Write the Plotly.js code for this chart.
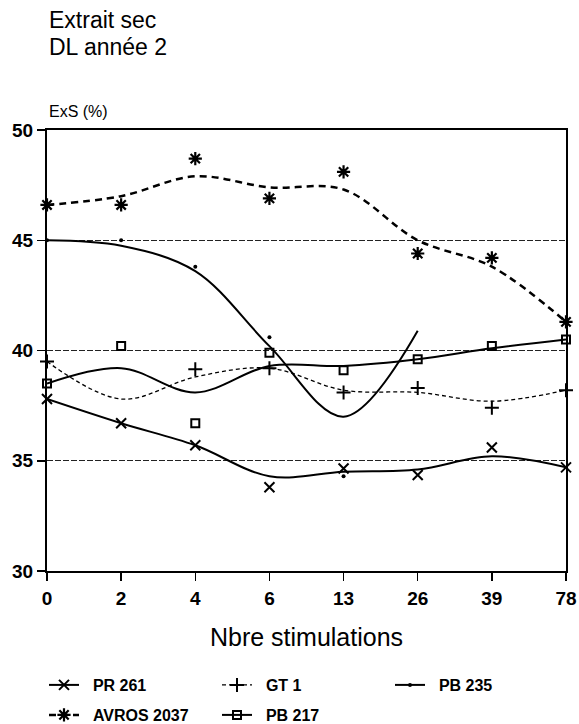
<!DOCTYPE html>
<html>
<head>
<meta charset="utf-8">
<script src="https://cdn.plot.ly/plotly-3.0.1.min.js"></script>
<style>html,body{margin:0;padding:0;background:#fff;}#chart{width:579px;height:724px;}</style>
</head>
<body>
<div id="chart"></div>
<script>
// Categories (x axis)
const categories = ['0', '2', '4', '6', '13', '26', '39', '78'];

// Observed points (markers)
const pr261Points   = [37.8, 36.7, 35.7, 33.8, 34.65, 34.35, 35.6, 34.7];
const gt1Points     = [39.5, null, 39.15, 39.2, 38.1, 38.3, 37.4, 38.2];
const pb235Points   = [45.0, 45.0, 43.8, 40.6, 34.3, null, null, null];
const avrosPoints   = [46.6, 46.6, 48.7, 46.9, 48.1, 44.4, 44.2, 41.3];
const pb217Points   = [38.5, 40.2, 36.7, 39.9, 39.1, 39.6, 40.2, 40.5];

// Fitted (smoothed) curves
const pr261Curve = [37.8, 36.7, 35.7, 34.3, 34.5, 34.6, 35.2, 34.7];
const gt1Curve   = [39.5, 37.8, 38.8, 39.2, 38.2, 38.1, 37.7, 38.2];
const pb235Curve = [45.0, 44.75, 43.6, 40.2, 37.0, 40.9, null, null];
const avrosCurve = [46.6, 47.0, 47.9, 47.4, 47.3, 45.0, 43.8, 41.3];
const pb217Curve = [38.5, 39.2, 38.1, 39.3, 39.3, 39.6, 40.1, 40.5];

const seriesNames = ['PR 261', 'GT 1', 'PB 235', 'AVROS 2037', 'PB 217'];
const yTicks = [30, 35, 40, 45, 50];

const series = [
  {name: seriesNames[0], pts: pr261Points, curve: pr261Curve, sym: 'x-thin-open', size: 10, mlw: 2, dash: 'solid', lw: 2, lg: 'legend'},
  {name: seriesNames[1], pts: gt1Points,   curve: gt1Curve,   sym: 'cross-thin-open', size: 10, mlw: 2, dash: '4px,3px', lw: 1.3, lg: 'legend'},
  {name: seriesNames[2], pts: pb235Points, curve: pb235Curve, sym: 'circle', size: 4, mlw: 0, dash: 'solid', lw: 2, lg: 'legend'},
  {name: seriesNames[3], pts: avrosPoints, curve: avrosCurve, sym: 'asterisk-open', size: 11, mlw: 2.2, dash: '7px,5px', lw: 2.5, lg: 'legend2'},
  {name: seriesNames[4], pts: pb217Points, curve: pb217Curve, sym: 'square-open', size: 8, mlw: 2, dash: 'solid', lw: 2, lg: 'legend2'}
];

const traces = [];
series.forEach(s => {
  traces.push({
    x: categories, y: s.curve, type: 'scatter', mode: 'lines',
    line: {shape: 'spline', smoothing: 1, color: '#000', width: s.lw, dash: s.dash},
    showlegend: false, hoverinfo: 'skip', cliponaxis: false, connectgaps: false
  });
  traces.push({
    x: categories, y: s.pts, type: 'scatter', mode: 'markers',
    marker: {symbol: s.sym, size: s.size, color: '#000', line: {color: '#000', width: s.mlw}},
    showlegend: false, cliponaxis: false
  });
});
// legend entries (no data drawn)
series.forEach(s => {
  traces.push({
    x: [null], y: [null], type: 'scatter', mode: 'lines+markers', name: '\u00a0\u00a0' + s.name,
    legend: s.lg,
    line: {color: '#000', width: s.lw, dash: s.dash},
    marker: {symbol: s.sym, size: s.size, color: '#000', line: {color: '#000', width: s.mlw}}
  });
});

const FONT = 'Liberation Sans, Arial, sans-serif';
const legendCommon = {
  orientation: 'h', xanchor: 'left', yanchor: 'middle',
  xref: 'container', yref: 'container',
  entrywidth: 128, entrywidthmode: 'pixels',
  font: {size: 16, weight: 'bold', color: '#000', family: FONT},
  bgcolor: 'rgba(0,0,0,0)'
};

const layout = {
  width: 579, height: 724,
  margin: {l: 47, r: 13, t: 130, b: 153, autoexpand: false},
  paper_bgcolor: '#fff', plot_bgcolor: '#fff',
  font: {family: FONT, color: '#000'},
  xaxis: {
    type: 'category', categoryarray: categories, categoryorder: 'array',
    range: [0, 7], showgrid: false, zeroline: false, automargin: false,
    showline: true, linecolor: '#000', linewidth: 2, mirror: true,
    ticks: 'outside', ticklen: 8, tickwidth: 1.5, tickcolor: '#000',
    ticklabelstandoff: 1,
    tickfont: {size: 19, family: FONT, weight: 'bold', color: '#000'},
    title: {text: 'Nbre stimulations', font: {size: 25, color: '#000', family: FONT}, standoff: 21}
  },
  yaxis: {
    range: [30, 50], tickvals: yTicks, ticktext: yTicks.map(String), automargin: false,
    showgrid: true, gridcolor: '#222', gridwidth: 1, griddash: '6px,2px',
    zeroline: false, showline: true, linecolor: '#000', linewidth: 2, mirror: true,
    ticks: 'outside', ticklen: 8, tickwidth: 1.5, tickcolor: '#000',
    tickfont: {size: 19, family: FONT, weight: 'bold', color: '#000'}
  },
  annotations: [
    {text: 'Extrait sec', xref: 'paper', yref: 'paper', x: 0, y: 1, xanchor: 'left', yanchor: 'bottom',
     yshift: 95, showarrow: false, font: {size: 23, color: '#000', family: FONT}},
    {text: 'DL année 2', xref: 'paper', yref: 'paper', x: 0, y: 1, xanchor: 'left', yanchor: 'bottom',
     yshift: 68, showarrow: false, font: {size: 23, color: '#000', family: FONT}},
    {text: 'ExS (%)', xref: 'paper', yref: 'paper', x: 0, y: 1, xanchor: 'left', yanchor: 'bottom',
     yshift: 8, showarrow: false, font: {size: 16, color: '#000', family: FONT}}
  ],
  legend: Object.assign({}, legendCommon, {x: 44 / 579, y: 1 - 685 / 724}),
  legend2: Object.assign({}, legendCommon, {x: 44 / 579, y: 1 - 715 / 724}),
  showlegend: true
};

Plotly.newPlot('chart', traces, layout, {displayModeBar: false, staticPlot: true});
</script>
</body>
</html>
